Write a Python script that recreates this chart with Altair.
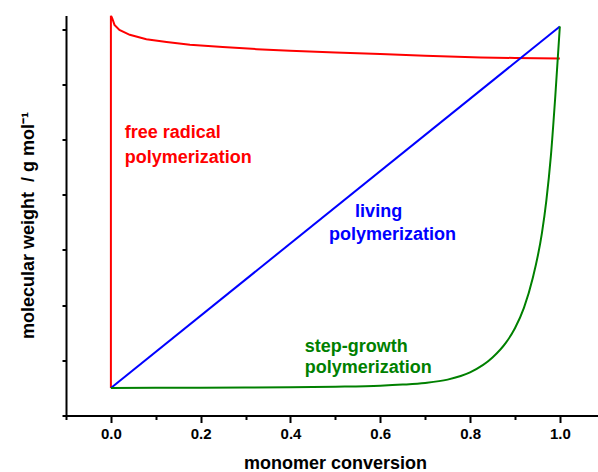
import altair as alt
import pandas as pd

# ---- data ----
red_x = [0.0, 0.0, 0.003, 0.008, 0.019, 0.042, 0.079, 0.124, 0.176, 0.249, 0.325, 0.399, 0.5, 0.6, 0.7, 0.824, 0.9, 1.0]
red_y = [0.0, 6.75, 6.70, 6.58, 6.49, 6.40, 6.32, 6.27, 6.22, 6.18, 6.14, 6.11, 6.08, 6.05, 6.02, 5.99, 5.98, 5.97]

blue_x = [0.0, 1.0]
blue_y = [0.0, 6.55]

green_x = [0.0, 0.1, 0.2, 0.3, 0.4, 0.5, 0.6, 0.65, 0.7, 0.75, 0.8, 0.85, 0.88, 0.9, 0.92, 0.94, 0.96, 0.97, 0.98, 0.99, 1.0]
green_y = [0.0, 0.002, 0.004, 0.007, 0.012, 0.022, 0.04, 0.06, 0.09, 0.15, 0.28, 0.55, 0.82, 1.08, 1.45, 2.0, 2.8, 3.4, 4.2, 5.3, 6.55]

series_names = ["free radical", "living", "step-growth"]
series_colors = ["#ff0000", "#0000ff", "#008000"]

label_texts = ["free radical", "polymerization", "living", "polymerization", "step-growth", "polymerization"]
label_series = ["free radical", "free radical", "living", "living", "step-growth", "step-growth"]
label_x = [0.031, 0.031, 0.544, 0.486, 0.432, 0.432]
label_y = [4.53, 4.08, 3.10, 2.68, 0.656, 0.265]

x_ticks = [-0.1, 0.0, 0.1, 0.2, 0.3, 0.4, 0.5, 0.6, 0.7, 0.8, 0.9, 1.0]
y_ticks = [-0.5, 0.0, 0.5, 1.0, 1.5, 2.0, 2.5, 3.0, 3.5, 4.0, 4.5, 5.0, 5.5, 6.0, 6.5]

rows = []
for name, xs, ys in [("free radical", red_x, red_y), ("living", blue_x, blue_y), ("step-growth", green_x, green_y)]:
    for i, (xv, yv) in enumerate(zip(xs, ys)):
        rows.append({"series": name, "x": xv, "y": yv, "i": i})
df = pd.DataFrame(rows)
df_lin = df[df["series"] != "step-growth"]
df_green = df[df["series"] == "step-growth"]

df_text = pd.DataFrame({"text": label_texts, "series": label_series, "x": label_x, "y": label_y})

FONT = "Liberation Sans"

xscale = alt.Scale(domain=[-0.1, 1.085], nice=False, zero=False)
yscale = alt.Scale(domain=[-0.5, 6.75], nice=False, zero=False)
cscale = alt.Scale(domain=series_names, range=series_colors)

x_axis = alt.Axis(
    values=x_ticks,
    title="monomer conversion",
    labelExpr="round(datum.value*10) % 2 === 0 ? format(datum.value, '.1f') : ''",
    tickSize={"condition": {"test": "round(datum.value*10) % 2 === 0", "value": 7}, "value": 4},
    tickWidth=2, tickColor="black",
    domainColor="black", domainWidth=2,
    labelFont=FONT, labelFontSize=15, labelFontWeight="bold", labelColor="black",
    labelPadding=4, labelFlush=False, labelOverlap=False,
    titleFont=FONT, titleFontSize=18, titleFontWeight="bold", titleColor="black",
    titleX=269, titleY=53, titleBaseline="alphabetic", titleAnchor="middle",
    grid=False,
)

y_axis = alt.Axis(
    values=y_ticks,
    labels=False,
    title="molecular weight \u00a0/ g mol⁻¹",
    tickSize={"condition": {"test": "datum.value % 1 === 0", "value": 8}, "value": 4},
    tickWidth=2, tickColor="black",
    domainColor="black", domainWidth=2,
    titleFont=FONT, titleFontSize=18, titleFontWeight="bold", titleColor="black",
    titleAngle=270, titleX=-33, titleY=209.5, titleBaseline="alphabetic", titleAlign="center",
    grid=False,
)

lines = alt.Chart(df_lin).mark_line(strokeWidth=2, clip=True).encode(
    x=alt.X("x:Q", scale=xscale, axis=x_axis),
    y=alt.Y("y:Q", scale=yscale, axis=y_axis),
    color=alt.Color("series:N", scale=cscale, legend=None),
    order=alt.Order("i:Q"),
    detail="series:N",
)

green = alt.Chart(df_green).mark_line(strokeWidth=2, clip=True, interpolate="monotone").encode(
    x=alt.X("x:Q", scale=xscale),
    y=alt.Y("y:Q", scale=yscale),
    color=alt.Color("series:N", scale=cscale, legend=None),
    order=alt.Order("i:Q"),
)

texts = alt.Chart(df_text).mark_text(
    align="left", baseline="alphabetic", font=FONT, fontSize=18, fontWeight="bold"
).encode(
    x=alt.X("x:Q", scale=xscale),
    y=alt.Y("y:Q", scale=yscale),
    text="text:N",
    color=alt.Color("series:N", scale=cscale, legend=None),
)

chart = alt.layer(lines, green, texts).properties(
    width=532, height=400,
    padding={"left": 66, "top": 15.5, "right": 0, "bottom": 56.5},
    autosize=alt.AutoSizeParams(type="none"),
    background="white",
).configure_view(stroke=None)

chart.save("out.html", embed_options={"renderer": "svg", "actions": False})
